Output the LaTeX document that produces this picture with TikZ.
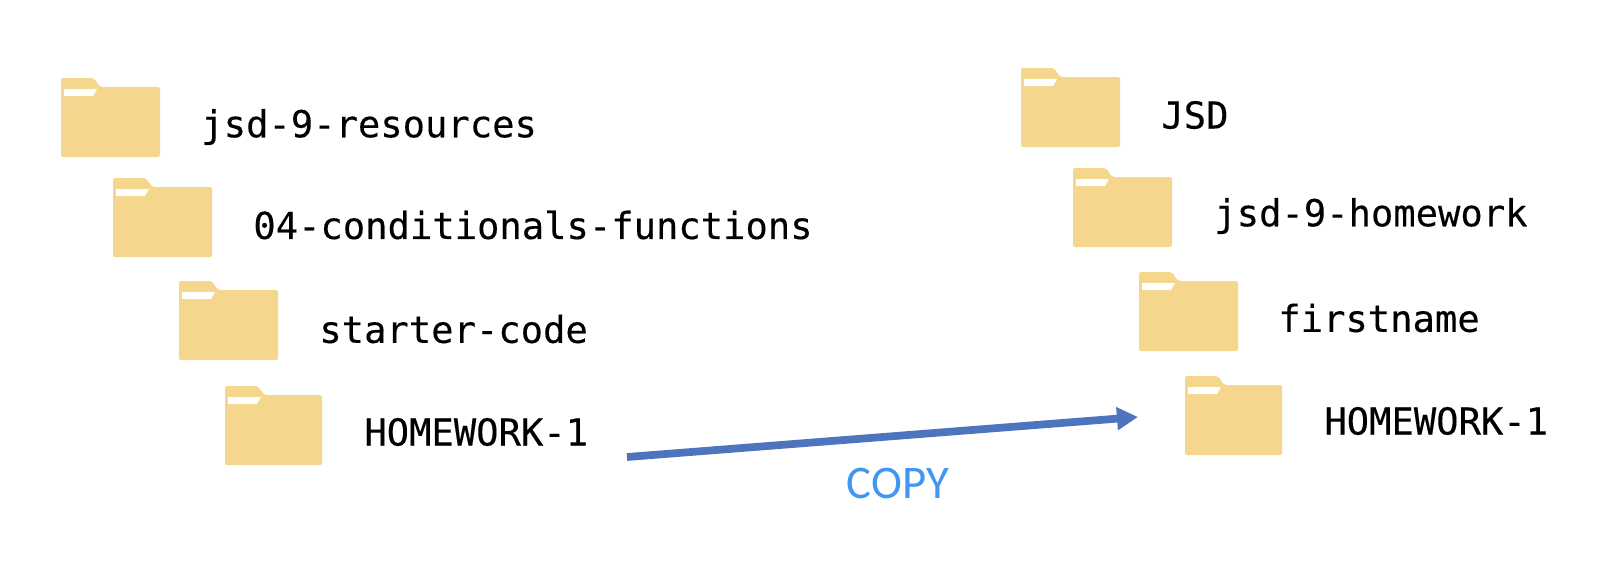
\documentclass[tikz,border=0pt]{standalone}
\usepackage{fontspec}
\usepackage{xcolor}
\usetikzlibrary{arrows.meta}
\setmonofont[FakeBold=0.25]{DejaVu Sans Mono}
\newfontfamily\copyfont{Carlito}
\definecolor{folderyellow}{HTML}{F4D68C}
\definecolor{arrowblue}{HTML}{4F74BE}
\definecolor{copyblue}{HTML}{4096F0}
\tikzset{
  foldername/.style={anchor=west,inner sep=0pt,font=\ttfamily\fontsize{21.15}{25}\selectfont},
  copyarrow/.style={draw=arrowblue,line width=4.4pt,-{Triangle[length=12pt,width=12.5pt]}},
  copylabel/.style={inner sep=0pt,text=copyblue,font=\copyfont\fontsize{26.6}{32}\selectfont}
}
% one folder, #1 is its width, #2 and #3 are the left and top of its tab
\newcommand{\folder}[3][99]
        {\fill [folderyellow,rounded corners=1.2pt,shift={(#2,#3)}] (0,0) -- (33,0) -- (39,9) -- (#1,9) -- (#1,79) -- (0,79) -- cycle;
         \fill [white,shift={(#2,#3)}] (3,11) -- (36,11) -- (32,18) -- (3,18) -- cycle;}

\begin{document}
\begin{tikzpicture}[x=0.02cm,y=-0.02cm]
\useasboundingbox (0,0) rectangle (1622,586);

\folder{61}{78}
\node[foldername] (resources) at (201,127) {jsd-9-resources};
\folder{113}{178}
\node[foldername] (conditionals) at (253,225) {04-conditionals-functions};
\folder{179}{281}
\node[foldername] (starter) at (319,329) {starter-code};
\folder[97]{225}{386}
\node[foldername] (homeworkleft) at (364,432) {HOMEWORK-1};

\folder{1021}{68}
\node[foldername] (jsd) at (1161,115) {JSD};
\folder{1073}{168}
\node[foldername] (homeworkrepo) at (1214,216) {jsd-9-homework};
\folder{1139}{272}
\node[foldername] (firstname) at (1278,318) {firstname};
\folder[97]{1185}{376}
\node[foldername] (homeworkright) at (1324,421) {HOMEWORK-1};

\coordinate (copystart) at (627,457);
\coordinate (copyend) at (1138,417);
\draw[copyarrow] (copystart) -- (copyend);
\node[copylabel] (copy) at (898,483) {COPY};
\end{tikzpicture}
\end{document}
